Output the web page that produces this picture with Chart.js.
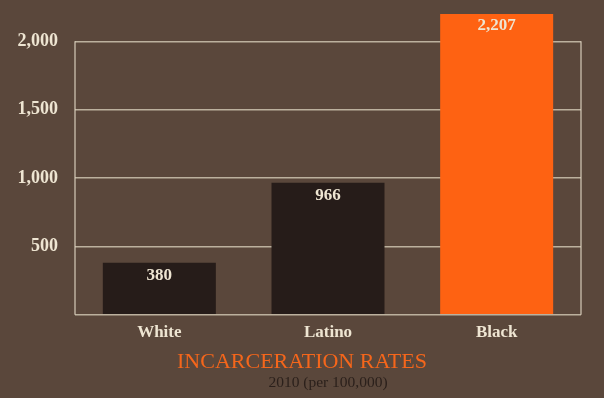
<!DOCTYPE html>
<html lang="en">
<head>
<meta charset="utf-8">
<title>Incarceration Rates</title>
<script src="https://cdn.jsdelivr.net/npm/chart.js@4.4.0/dist/chart.umd.min.js"></script>
<style>
  html, body { margin: 0; padding: 0; background: #5a473b; }
  #wrap { width: 604px; height: 398px; }
</style>
</head>
<body>
<div id="wrap"><canvas id="graph"></canvas></div>
<script>
var groups = ["White", "Latino", "Black"];
var rates = [380, 966, 2207];
var barColors = ["#261c19", "#261c19", "#fe6212"];
var tickValues = [0, 500, 1000, 1500, 2000];

var chalk = "#eee5d2";
var serif = "'Liberation Serif', 'DejaVu Serif', serif";

// value labels inside the top of each bar + the chalk frame
var barText = {
  id: "barText",
  afterDatasetsDraw: function(chart) {
    var ctx = chart.ctx;
    var meta = chart.getDatasetMeta(0);
    ctx.save();
    ctx.fillStyle = chalk;
    ctx.font = "bold 17px " + serif;
    ctx.textAlign = "center";
    ctx.textBaseline = "middle";
    meta.data.forEach(function(bar, i) {
      ctx.fillText(rates[i].toLocaleString("en-US"), bar.x, bar.y + 13);
    });
    ctx.restore();
  },
  beforeDatasetsDraw: function(chart) {
    var ctx = chart.ctx;
    var y = chart.scales.y;
    var top = y.getPixelForValue(tickValues[tickValues.length - 1]);
    var bottom = y.getPixelForValue(0);
    ctx.save();
    ctx.strokeStyle = "rgba(222,212,192,0.75)";
    ctx.lineWidth = 1.5;
    ctx.beginPath();
    ctx.moveTo(chart.chartArea.left, top);
    ctx.lineTo(chart.chartArea.left, bottom);
    ctx.moveTo(chart.chartArea.right, top);
    ctx.lineTo(chart.chartArea.right, bottom);
    ctx.stroke();
    ctx.restore();
  }
};

var graph = new Chart(document.getElementById("graph"), {
  type: "bar",
  data: {
    labels: groups,
    datasets: [{
      data: rates,
      backgroundColor: barColors,
      categoryPercentage: 0.67,
      barPercentage: 1.0
    }]
  },
  options: {
    responsive: true,
    maintainAspectRatio: false,
    animation: false,
    layout: { padding: { top: 14, right: 0, left: 0, bottom: 0 } },
    plugins: {
      legend: { display: false },
      tooltip: { enabled: false },
      title: {
        display: true,
        position: "bottom",
        weight: 1000,
        text: "INCARCERATION RATES",
        color: "#f5661b",
        font: { family: serif, size: 22, weight: "normal" },
        padding: { top: 6, bottom: 0 }
      },
      subtitle: {
        display: true,
        position: "bottom",
        fullSize: false,
        weight: 2000,
        text: "2010 (per 100,000)",
        color: "#2b201b",
        font: { family: serif, size: 15.5, lineHeight: 1 },
        padding: { top: 0, bottom: 7 }
      }
    },
    scales: {
      x: {
        afterFit: function(scale) { scale.paddingRight = 23; },
        grid: { display: false },
        border: { display: false },
        ticks: {
          color: chalk,
          font: { family: serif, size: 17, weight: "bold" },
          padding: 0
        }
      },
      y: {
        min: 0,
        max: 2200,
        afterBuildTicks: function(scale) {
          scale.ticks = tickValues.map(function(v) { return { value: v }; });
        },
        afterFit: function(scale) {
          scale.width = 75;
          scale.paddingTop = 0;
          scale.paddingBottom = 0;
        },
        border: { display: false },
        grid: {
          color: "rgba(222,212,192,0.75)",
          lineWidth: 1.5,
          drawTicks: false
        },
        ticks: {
          color: chalk,
          padding: 17,
          font: { family: serif, size: 18, weight: "bold" },
          callback: function(v) { return v === 0 ? "" : v.toLocaleString("en-US"); }
        }
      }
    }
  },
  plugins: [barText]
});
</script>
</body>
</html>
